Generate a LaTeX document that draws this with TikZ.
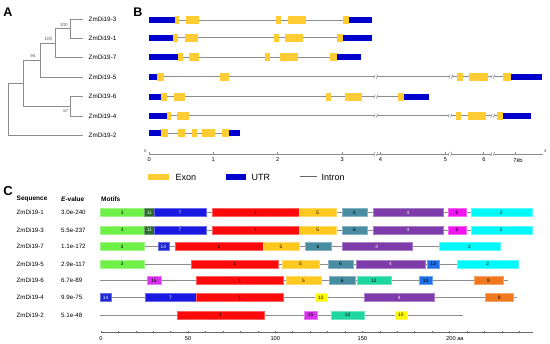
\documentclass[tikz,border=0pt]{standalone}
\usepackage{fontspec}
\setmainfont{Liberation Sans}
\definecolor{exonc}{RGB}{255,204,51}
\definecolor{utrc}{RGB}{0,0,204}
\definecolor{linec}{RGB}{140,140,140}
\definecolor{mthree}{RGB}{110,240,70}
\definecolor{meleven}{RGB}{40,110,40}
\definecolor{mseven}{RGB}{25,25,225}
\definecolor{mone}{RGB}{255,10,10}
\definecolor{mfive}{RGB}{255,200,30}
\definecolor{msix}{RGB}{72,140,162}
\definecolor{mfour}{RGB}{125,60,170}
\definecolor{meight}{RGB}{240,20,240}
\definecolor{mtwo}{RGB}{0,250,250}
\definecolor{mfifteen}{RGB}{215,50,235}
\definecolor{mtwelve}{RGB}{30,215,160}
\definecolor{mthirteen}{RGB}{30,110,230}
\definecolor{mnine}{RGB}{240,120,30}
\definecolor{mten}{RGB}{255,250,0}
\definecolor{mfourteen}{RGB}{30,40,210}
\newcommand\utrbox[3]{\fill[utrc] (#1,#3-3) rectangle (#2,#3+3);}
\newcommand\exbox[3]{\fill[exonc] (#1,#3-4) rectangle (#2,#3+4);}
\newcommand\intr[3]{\draw[linec,line width=0.8] (#1,#3) -- (#2,#3);}
\newcommand\brk[2]{\fill[white] (#1-1.2,#2-2.5) rectangle (#1+1.2,#2+2.5);
  \draw[linec,line width=0.5] (#1-2,#2+2) -- (#1-0.5,#2-2) (#1+0.5,#2+2) -- (#1+2,#2-2);}
\newcommand\mot[6]{\fill[#4,draw=#4!65!white,line width=0.4] (#1,#3-4) rectangle (#2,#3+4);
  \node[mlab,text=#6] at ({(#1+#2)/2},#3) {#5};}
\newcommand\mline[3]{\draw[linec,line width=0.8] (#1,#3) -- (#2,#3);}
\begin{document}
\begin{tikzpicture}[x=1pt,y=-1pt,
  tree/.style={draw=linec,line width=0.9},
  leaf/.style={anchor=west,inner sep=0,font=\fontsize{6.3}{7}\selectfont},
  boot/.style={inner sep=0,text=black!65,font=\fontsize{4.5}{5}\selectfont},
  panel/.style={inner sep=0,font=\fontsize{12.5}{13}\bfseries\selectfont},
  axlab/.style={inner sep=0,font=\fontsize{5.7}{6}\selectfont},
  mlab/.style={inner sep=0,font=\fontsize{4.8}{5}\selectfont},
  hdr/.style={anchor=west,inner sep=0,font=\fontsize{6.5}{7}\bfseries\selectfont},
  seq/.style={anchor=west,inner sep=0,font=\fontsize{6.2}{7}\selectfont},
  leg/.style={anchor=west,inner sep=0,font=\fontsize{9}{10}\selectfont}]
\useasboundingbox (0,0) rectangle (550,344);
\fill[white] (0,0) rectangle (550,344);
% ---------- Panel A ----------
\node[panel] (pA) at (8,12) {A};
\node[leaf] (l3) at (88.5,19.3) {ZmDi19-3};
\node[leaf] (l1) at (88.5,38.3) {ZmDi19-1};
\node[leaf] (l7) at (88.5,57.7) {ZmDi19-7};
\node[leaf] (l5) at (88.5,77.3) {ZmDi19-5};
\node[leaf] (l6) at (88.5,96.7) {ZmDi19-6};
\node[leaf] (l4) at (88.5,116) {ZmDi19-4};
\node[leaf] (l2) at (88.5,135.7) {ZmDi19-2};
\draw[tree] (82.7,19.3) -- (70,19.3) -- (70,38.3) -- (82.7,38.3);
\draw[tree] (70,28.8) -- (55,28.8) -- (55,57.7) -- (82.7,57.7);
\draw[tree] (55,43.2) -- (40,43.2) -- (40,77.3) -- (82.7,77.3);
\draw[tree] (40,60.3) -- (23.3,60.3) -- (23.3,106.3) -- (70,106.3);
\draw[tree] (82.7,96.7) -- (70,96.7) -- (70,116) -- (82.7,116);
\draw[tree] (23.3,83.3) -- (8.3,83.3) -- (8.3,135.7) -- (82.7,135.7);
\node[boot] (b1) at (64,24.6) {100};
\node[boot] (b2) at (48.5,39) {100};
\node[boot] (b3) at (33,56) {94};
\node[boot] (b4) at (66,110.5) {67};
% ---------- Panel B ----------
\node[panel] (pB) at (138,12) {B};
% row 1
\intr{149.3}{371.7}{20}
\utrbox{149.3}{175}{20}\exbox{175}{179.3}{20}\exbox{186}{199}{20}\exbox{276}{280.7}{20}
\exbox{287.7}{305.7}{20}\exbox{342.7}{349.3}{20}\utrbox{349.3}{371.7}{20}
% row 2
\intr{149.3}{371.7}{37.7}
\utrbox{149.3}{172.7}{37.7}\exbox{172.7}{177.7}{37.7}\exbox{185}{197.7}{37.7}\exbox{274}{279}{37.7}
\exbox{285.3}{303.3}{37.7}\exbox{336.7}{343.3}{37.7}\utrbox{343.3}{371.7}{37.7}
% row 3
\intr{149.3}{360.7}{57.3}
\utrbox{149.3}{178.3}{57.3}\exbox{178.3}{182.7}{57.3}\exbox{189.3}{199}{57.3}\exbox{265.3}{270}{57.3}
\exbox{280}{298}{57.3}\exbox{330}{336.7}{57.3}\utrbox{336.7}{360.7}{57.3}
% row 4
\intr{149.3}{542.3}{76.7}
\utrbox{149.3}{157.3}{76.7}\exbox{157.3}{164}{76.7}\exbox{220}{229}{76.7}
\brk{375.7}{76.7}\brk{450.7}{76.7}
\exbox{457.3}{462.7}{76.7}\exbox{469.3}{487.7}{76.7}\brk{492.7}{76.7}
\exbox{503.3}{510.7}{76.7}\utrbox{510.7}{542.3}{76.7}
% row 5
\intr{149.3}{429.3}{96.7}
\utrbox{149.3}{161}{96.7}\exbox{161}{166.7}{96.7}\exbox{174.3}{184.7}{96.7}\exbox{326}{330.7}{96.7}
\exbox{344.5}{361.7}{96.7}\brk{375.7}{96.7}\exbox{397.7}{404.3}{96.7}\utrbox{404.3}{429.3}{96.7}
% row 6
\intr{149.3}{531.3}{115.7}
\utrbox{149.3}{166.7}{115.7}\exbox{166.7}{170.7}{115.7}\exbox{177.3}{189}{115.7}
\brk{375.7}{115.7}\brk{450}{115.7}
\exbox{456}{460.7}{115.7}\exbox{467.7}{485.7}{115.7}\brk{492.7}{115.7}
\exbox{497.3}{503.3}{115.7}\utrbox{503.3}{531.3}{115.7}
% row 7
\intr{149.3}{240}{133.3}
\utrbox{149.3}{161}{133.3}\exbox{161}{167.7}{133.3}\exbox{178.3}{185.3}{133.3}\exbox{192.3}{197.3}{133.3}
\exbox{202.3}{215.3}{133.3}\exbox{221.7}{229.3}{133.3}\utrbox{229.3}{240}{133.3}
% axis B
\coordinate (bs) at (149.3,154);
\coordinate (be) at (542.7,154);
\draw[linec,line width=0.8] (bs) -- (be);
\foreach \x in {149.3,213.3,277.7,342.3,380,445.3,483.7,515.5}
  \draw[linec,line width=0.6] (\x,154) -- (\x,152);
\brk{375.7}{154}\brk{450}{154}\brk{492.7}{154}
\node[axlab] (t0) at (149.3,160) {0};
\node[axlab] (t1) at (213.3,160) {1};
\node[axlab] (t2) at (277.7,160) {2};
\node[axlab] (t3) at (342.3,160) {3};
\node[axlab] (t4) at (380.5,160) {4};
\node[axlab] (t5) at (445.5,160) {5};
\node[axlab] (t6) at (484,160) {6};
\node[axlab] (t7) at (518,160) {7kb};
\node[inner sep=0,font=\fontsize{3.5}{4}\selectfont] (p5) at (145.5,151.5) {5'};
\node[inner sep=0,font=\fontsize{3.5}{4}\selectfont] (p3) at (545.5,151.5) {3'};
% legend
\fill[exonc] (148.3,173.7) rectangle (169.3,179.7);
\node[leg] (lgE) at (175.5,177) {Exon};
\fill[utrc] (226,173.7) rectangle (246,179.7);
\node[leg] (lgU) at (251.5,177) {UTR};
\coordinate (ia) at (300,176.7);
\coordinate (ib) at (316.7,176.7);
\draw[black!60,line width=0.7] (ia) -- (ib);
\node[leg] (lgI) at (321.5,177) {Intron};
% ---------- Panel C ----------
\node[panel,font=\fontsize{13}{14}\bfseries\selectfont] (pC) at (8,191) {C};
\node[hdr] (h1) at (16.5,199.3) {Sequence};
\node[hdr] (h2) at (61,199.3) {\itshape E\upshape -value};
\node[hdr] (h3) at (101,199.3) {Motifs};
\node[seq] (s1) at (16.5,212.7) {ZmDi19-1}; \node[seq] (e1) at (61,212.7) {3.0e-240};
\node[seq] (s2) at (16.5,230) {ZmDi19-3};   \node[seq] (e2) at (61,230) {5.5e-237};
\node[seq] (s3) at (16.5,246.7) {ZmDi19-7}; \node[seq] (e3) at (61,246.7) {1.1e-172};
\node[seq] (s4) at (16.5,264) {ZmDi19-5};   \node[seq] (e4) at (61,264) {2.9e-117};
\node[seq] (s5) at (16.5,280.7) {ZmDi19-6}; \node[seq] (e5) at (61,280.7) {6.7e-89};
\node[seq] (s6) at (16.5,297.7) {ZmDi19-4}; \node[seq] (e6) at (61,297.7) {9.9e-75};
\node[seq] (s7) at (16.5,315) {ZmDi19-2};   \node[seq] (e7) at (61,315) {5.1e-48};
% motif rows 1 and 2
\foreach \yy in {212.7,230}{
  \mline{100}{531.7}{\yy}
  \mot{100}{144.3}{\yy}{mthree}{3}{black}
  \mot{144.3}{154.3}{\yy}{meleven}{11}{white}
  \mot{154.3}{205.7}{\yy}{mseven}{7}{white}
  \mot{211.7}{299.3}{\yy}{mone}{1}{black}
  \mot{299.3}{336}{\yy}{mfive}{5}{black}
  \mot{341.7}{367.3}{\yy}{msix}{6}{black}
  \mot{372.7}{443.3}{\yy}{mfour}{4}{white}
  \mot{448}{466}{\yy}{meight}{8}{black}
  \mot{470.7}{531.7}{\yy}{mtwo}{2}{black}
}
% row 3
\mline{100}{500}{246.7}
\mot{100}{144}{246.7}{mthree}{3}{black}
\mot{157.7}{169}{246.7}{mfourteen}{14}{white}
\mot{175.3}{262.7}{246.7}{mone}{1}{black}
\mot{262.7}{299.3}{246.7}{mfive}{5}{black}
\mot{305}{331}{246.7}{msix}{6}{black}
\mot{341.7}{411.7}{246.7}{mfour}{4}{white}
\mot{439}{500}{246.7}{mtwo}{2}{black}
% row 4
\mline{100}{518.3}{264}
\mot{100}{144}{264}{mthree}{3}{black}
\mot{191}{278.3}{264}{mone}{1}{black}
\mot{282}{319}{264}{mfive}{5}{black}
\mot{327.7}{353.3}{264}{msix}{6}{black}
\mot{355.7}{425}{264}{mfour}{4}{white}
\mot{426.7}{439.3}{264}{mthirteen}{13}{black}
\mot{457.3}{518.3}{264}{mtwo}{2}{black}
% row 5
\mline{100}{508}{280.7}
\mot{147.3}{160.7}{280.7}{mfifteen}{15}{black}
\mot{196.3}{283.3}{280.7}{mone}{1}{black}
\mot{286}{321}{280.7}{mfive}{5}{black}
\mot{329.3}{355}{280.7}{msix}{6}{black}
\mot{357}{390.7}{280.7}{mtwelve}{12}{black}
\mot{419.3}{432}{280.7}{mthirteen}{13}{black}
\mot{474.3}{502.7}{280.7}{mnine}{9}{black}
% row 6
\mline{100}{517.3}{297.7}
\mot{100}{111}{297.7}{mfourteen}{14}{white}
\mot{145}{196}{297.7}{mseven}{7}{white}
\mot{196}{283.3}{297.7}{mone}{1}{black}
\mot{315}{326.7}{297.7}{mten}{10}{black}
\mot{364.3}{434.3}{297.7}{mfour}{4}{white}
\mot{485}{513.3}{297.7}{mnine}{9}{black}
% row 7
\mline{100}{463.3}{315}
\mot{177.3}{264.3}{315}{mone}{1}{black}
\mot{304}{317.3}{315}{mfifteen}{15}{black}
\mot{330.7}{364.3}{315}{mtwelve}{12}{black}
\mot{395}{406.7}{315}{mten}{10}{black}
% axis C
\coordinate (cs) at (101,332.3);
\coordinate (ce) at (533.3,332.3);
\draw[black!60,line width=0.7] (cs) -- (ce);
\foreach \i in {0,...,24}
  \draw[black!60,line width=0.5] ({101+1.7426*10*\i},332.3) -- ({101+1.7426*10*\i},330.6);
\node[axlab] (c0) at (101,338.5) {0};
\node[axlab] (c50) at (188.1,338.5) {50};
\node[axlab] (c100) at (275.3,338.5) {100};
\node[axlab] (c150) at (362.4,338.5) {150};
\node[axlab,anchor=west] (c200) at (446,338.5) {200 aa};
\end{tikzpicture}
\end{document}
